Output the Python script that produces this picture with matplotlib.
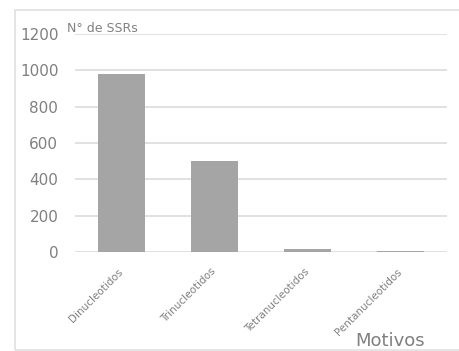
import matplotlib
matplotlib.use('Agg')
import matplotlib.pyplot as plt
from matplotlib.patches import Rectangle

motivos = ['Dinucleotidos', 'Trinucleotidos', 'Tetranucleotidos', 'Pentanucleotidos']
n_ssrs = [980, 500, 15, 5]
y_ticks = [0, 200, 400, 600, 800, 1000, 1200]

W, H = 459, 351
fig = plt.figure(figsize=(W / 100, H / 100), dpi=100)
fig.patch.set_facecolor('white')

# marco gris claro del grafico
fig.patches.append(Rectangle((15 / W, 1 / H), 1.2, 1 - 11 / H, transform=fig.transFigure,
                             fill=False, edgecolor='#e0e0e0', linewidth=1.2))

ax = fig.add_axes([75 / W, 1 - 252 / H, 372 / W, 218 / H])
ax.bar(range(len(motivos)), n_ssrs, width=0.5, color='#a5a5a5', zorder=2)
ax.set_xlim(-0.5, len(motivos) - 0.5)
ax.set_ylim(0, 1200)
ax.set_yticks(y_ticks)
ax.set_yticklabels([str(v) for v in y_ticks], color='#808080', fontsize=11)
ax.yaxis.grid(True, color='#dcdcdc', linewidth=1.2, zorder=0)
ax.tick_params(axis='y', length=0, pad=12)
ax.tick_params(axis='x', length=0, pad=13)
ax.set_xticks(range(len(motivos)))
ax.set_xticklabels(motivos, rotation=45, ha='right', va='center', rotation_mode='anchor',
                   fontsize=7.5, color='#808080')
for s in ax.spines.values():
    s.set_visible(False)

fig.text(67 / W, 1 - 28 / H, 'N° de SSRs', fontsize=9, color='#808080', va='center', ha='left')
fig.text(425 / W, 1 - 341 / H, 'Motivos', fontsize=13, color='#808080', va='center', ha='right')

fig.savefig('out.png', dpi=100, facecolor='white')
